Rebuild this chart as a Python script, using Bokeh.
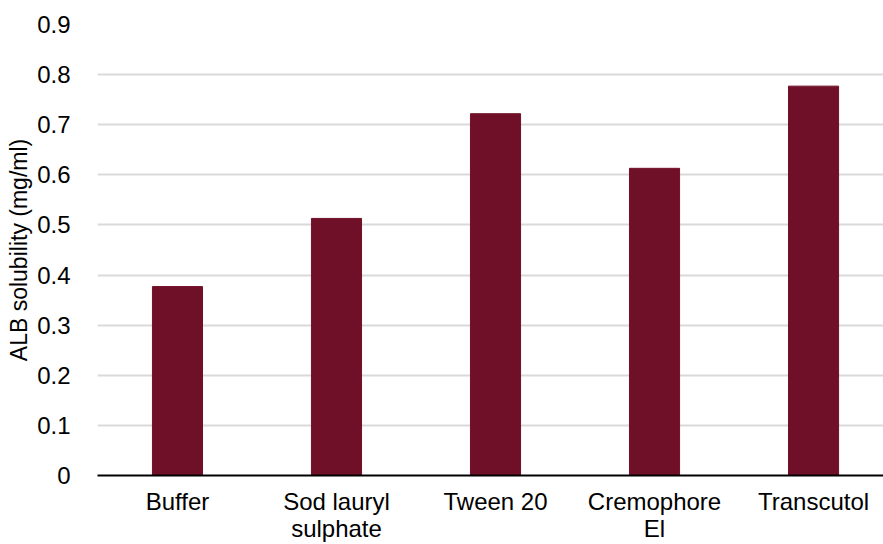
from bokeh.plotting import figure
from bokeh.models import Range1d, FixedTicker
from bokeh.embed import file_html
from bokeh.resources import INLINE

categories = ["Buffer", "Sod lauryl\nsulphate", "Tween 20", "Cremophore\nEl", "Transcutol"]
solubility = [0.377, 0.513, 0.722, 0.613, 0.777]
y_ticks = [0, 0.1, 0.2, 0.3, 0.4, 0.5, 0.6, 0.7, 0.8, 0.9]

positions = list(range(len(categories)))

p = figure(width=883, height=544, output_backend="svg", toolbar_location=None,
           x_range=Range1d(-0.503, 4.44), y_range=Range1d(0, 0.9))
p.min_border_left = 97
p.min_border_right = 0
p.min_border_top = 24
p.min_border_bottom = 60
p.outline_line_color = None

p.vbar(x=positions, top=solubility, width=0.315, color="#701028")

p.xgrid.grid_line_color = None
p.ygrid.grid_line_color = "#d9d9d9"
p.ygrid.grid_line_width = 2
p.ygrid.ticker = FixedTicker(ticks=y_ticks)

p.yaxis.ticker = FixedTicker(ticks=y_ticks)
p.yaxis.major_label_overrides = {0: "0"}
p.yaxis.axis_line_color = None
p.yaxis.major_tick_line_color = None
p.yaxis.minor_tick_line_color = None
p.yaxis.major_label_standoff = 21
p.yaxis.major_label_text_font = "Liberation Sans"
p.yaxis.major_label_text_font_size = "24px"
p.yaxis.major_label_text_color = "#000000"
p.yaxis.axis_label = "ALB solubility (mg/ml)"
p.yaxis.axis_label_text_font = "Liberation Sans"
p.yaxis.axis_label_text_font_size = "23px"
p.yaxis.axis_label_text_font_style = "normal"
p.yaxis.axis_label_text_color = "#000000"
p.yaxis.axis_label_standoff = 2

p.xaxis.ticker = FixedTicker(ticks=positions)
p.xaxis.major_label_overrides = {i: c for i, c in zip(positions, categories)}
p.xaxis.axis_line_color = "#000000"
p.xaxis.axis_line_width = 2
p.xaxis.major_tick_line_color = None
p.xaxis.minor_tick_line_color = None
p.xaxis.major_label_standoff = 6
p.xaxis.major_label_text_font = "Liberation Sans"
p.xaxis.major_label_text_font_size = "24px"
p.xaxis.major_label_text_line_height = 1.0
p.xaxis.major_label_text_color = "#000000"

open("out.html", "w").write(file_html(p, INLINE))
